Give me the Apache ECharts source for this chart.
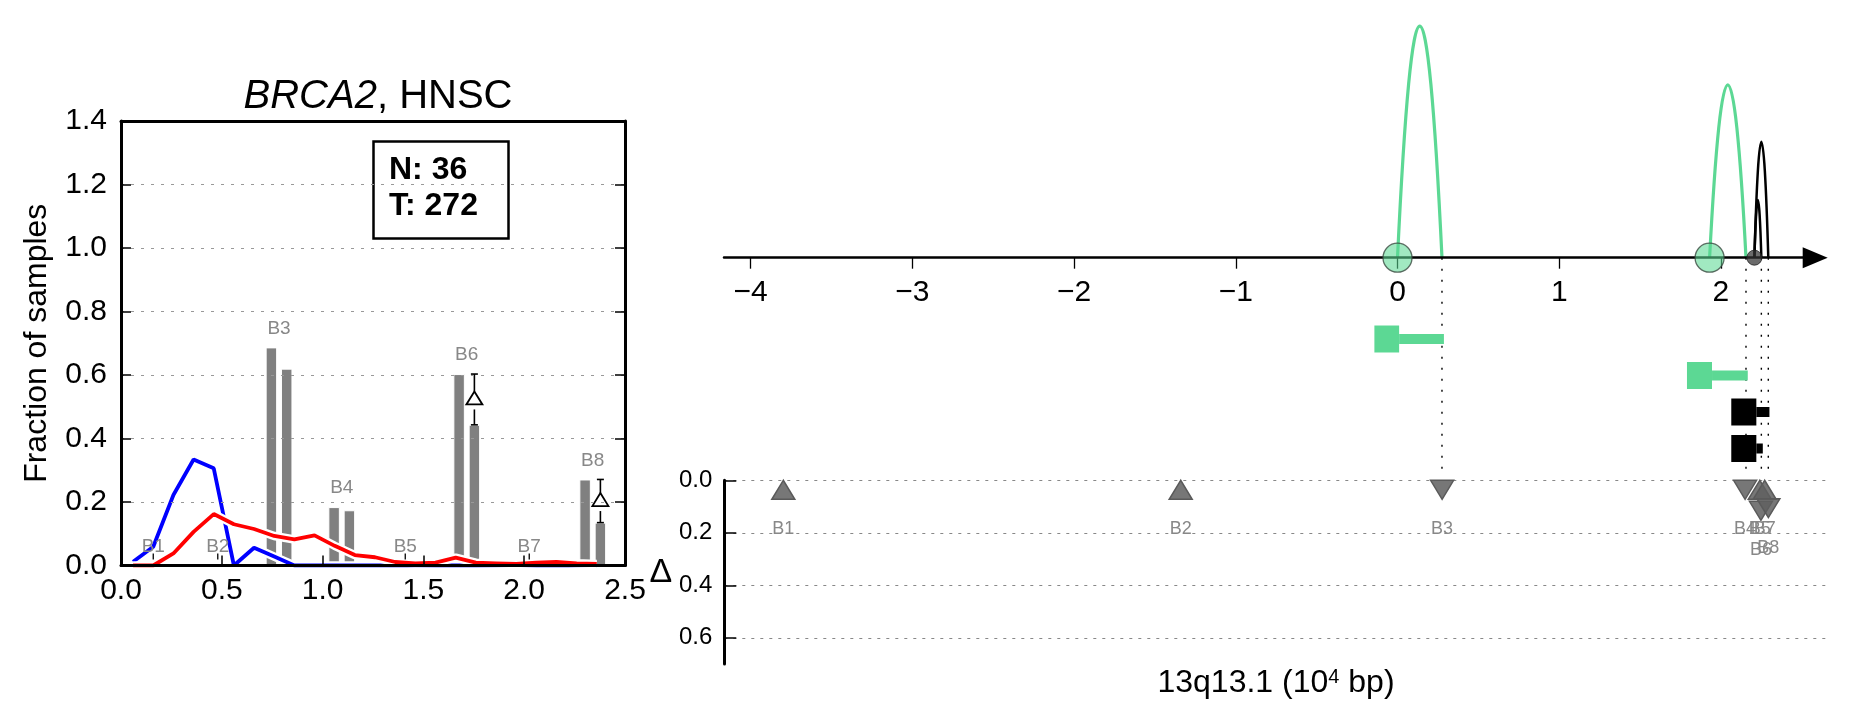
<!DOCTYPE html>
<html><head><meta charset="utf-8">
<script src="https://cdn.jsdelivr.net/npm/echarts@6/dist/echarts.min.js"></script>
<style>html,body{margin:0;padding:0;background:#fff}#c{width:1851px;height:718px}</style>
</head><body><div id="c"></div>
<script>
// ---------------- data: left panel ----------------
const binNames   = ['B1','B2','B3','B4','B5','B6','B7','B8'];
const binCenters = [0.16, 0.48, 0.784, 1.095, 1.41, 1.715, 2.025, 2.34];
const fracNormal = [0, 0, 0.687, 0.184, 0, 0.603, 0, 0.271];
const fracTumor  = [0, 0, 0.620, 0.174, 0, 0.443, 0, 0.135];
const deltaBins  = ['B6', 'B8'];
const curveX    = [0.06,0.16,0.26,0.36,0.46,0.56,0.66,0.76,0.86,0.96,1.06,1.16,1.26,1.36,1.46,1.56,1.66,1.76,1.86,1.96,2.06,2.16,2.26,2.36];
const curveBlue = [0.012,0.059,0.222,0.334,0.306,0.0,0.056,0.028,0.0,0,0,0,0,0,0,0,0,0,0,0,0,0,0,0];
const curveRed  = [0,0,0.038,0.106,0.162,0.13,0.115,0.093,0.082,0.095,0.062,0.033,0.026,0.011,0.007,0.009,0.025,0.009,0.007,0.005,0.009,0.011,0.007,0.005];
const sampleLabels = ['N', 'T'];
const sampleCounts = [36, 272];
const geneName = 'BRCA2';
const cancerType = 'HNSC';

// ---------------- data: right panel ----------------
const posTicks   = [-4, -3, -2, -1, 0, 1, 2];
const anchorX    = [0, 1.93, 2.207];
const anchorKind = ['green', 'green', 'black'];
const arcStart   = [0, 1.93, 2.207, 2.207];
const arcEnd     = [0.275, 2.155, 2.293, 2.25];
const arcHeight  = [0.965, 0.72, 0.483, 0.24];
const arcKind    = ['green', 'green', 'black', 'black'];
const geneBoxStart = [-0.143, 1.79, 2.064, 2.064];
const geneBoxEnd   = [0.01, 1.945, 2.219, 2.219];
const geneEnd      = [0.287, 2.166, 2.30, 2.259];
const geneKind     = ['green', 'green', 'black', 'black'];
const deltaNames = ['B1','B2','B3','B4','B5','B6','B7','B8'];
const deltaX     = [-3.80, -1.342, 0.275, 2.149, 2.24, 2.247, 2.27, 2.293];
const deltaVal   = [0, 0, 0, 0, 0, 0.08, 0, 0.07];
const deltaDir   = ['up','up','down','down','up','down','up','down'];
const deltaTicks = [0, 0.2, 0.4, 0.6];
const regionName = '13q13.1';

// ---------------- styles ----------------
const FONT = 'Liberation Sans';
const GREEN = '#5cd894';
const GREY_BAR = '#808080';
const LABEL_GREY = '#888888';
const kindColor = k => (k === 'green' ? GREEN : '#000000');

const chart = echarts.init(document.getElementById('c'), null, {renderer: 'canvas'});

const xRmin = -4.165, xRmaxTop = 2.583, xRmaxLow = 2.66;
const barW = 11.5, barGapPx = 3.8;

const option = {
  animation: false,
  backgroundColor: '#ffffff',
  textStyle: {fontFamily: FONT},
  title: [
    {
      text: '{i|' + geneName + '}, ' + cancerType,
      left: 373, top: 72, textAlign: 'center',
      textStyle: {fontFamily: FONT, fontSize: 40, fontWeight: 'normal', color: '#000',
        rich: {i: {fontFamily: FONT, fontSize: 40, fontStyle: 'italic', color: '#000'}}}
    },
    {
      text: sampleLabels.map((l, i) => l + ': ' + sampleCounts[i]).join('\n'),
      left: 373, top: 141,
      borderColor: '#000', borderWidth: 2.5,
      padding: [11, 31, 15, 16],
      textStyle: {fontFamily: FONT, fontSize: 32, fontWeight: 'bold', lineHeight: 36, color: '#000'}
    }
  ],
  grid: [
    {left: 121, top: 121, width: 504, height: 444.5, show: false},
    {left: 724, top: 17.7, width: 1091.2, height: 240},
    {left: 724, top: 320.75, width: 1091.2, height: 146},
    {left: 724.3, top: 480.3, width: 1103.4, height: 183.75}
  ],
  xAxis: [
    {gridIndex: 0, type: 'value', min: 0, max: 2.5, interval: 0.5, z: 10,
      axisLine: {show: true, onZero: false, lineStyle: {color: '#000', width: 3}},
      axisTick: {show: true, inside: true, length: 10, lineStyle: {color: '#000', width: 1.5}},
      axisLabel: {margin: 10, fontSize: 30, color: '#000', fontFamily: FONT, formatter: v => v.toFixed(1)},
      splitLine: {show: false}},
    {gridIndex: 0, type: 'value', min: 0, max: 2.5, position: 'top', z: 10,
      axisLine: {show: true, onZero: false, lineStyle: {color: '#000', width: 3}},
      axisTick: {show: false}, axisLabel: {show: false}, splitLine: {show: false}},
    {gridIndex: 1, type: 'value', min: xRmin, max: xRmaxTop, z: 5, position: 'bottom',
      axisLine: {show: true, onZero: false, symbol: ['none', 'triangle'], symbolSize: [21, 25],
        lineStyle: {color: '#000', width: 2.5}},
      axisTick: {show: true, length: 11, customValues: posTicks, lineStyle: {color: '#000', width: 1.3}},
      axisLabel: {customValues: posTicks, margin: 20, fontSize: 30, color: '#000', fontFamily: FONT,
        formatter: v => String(v).replace('-', '\u2212')},
      splitLine: {show: false}},
    {gridIndex: 2, type: 'value', min: xRmin, max: xRmaxTop, show: false},
    {gridIndex: 3, type: 'value', min: xRmin, max: xRmaxLow, show: true,
      axisLine: {show: false, onZero: false}, axisTick: {show: false}, axisLabel: {show: false}, splitLine: {show: false},
      name: '{a|' + regionName + ' (10}{s|4}{a| bp)}', nameLocation: 'middle', nameGap: 3,
      nameTextStyle: {fontFamily: FONT, color: '#000', rich: {
        a: {fontFamily: FONT, fontSize: 32, color: '#000'},
        s: {fontFamily: FONT, fontSize: 20, color: '#000', verticalAlign: 'top', padding: [0, 0, 10, 0]}}}}
  ],
  yAxis: [
    {gridIndex: 0, type: 'value', min: 0, max: 1.4, interval: 0.2, z: 10,
      name: 'Fraction of samples', nameLocation: 'middle', nameGap: 68,
      nameTextStyle: {fontFamily: FONT, fontSize: 32, color: '#000'},
      axisLine: {show: true, onZero: false, lineStyle: {color: '#000', width: 3}},
      axisTick: {show: true, inside: true, length: 10, lineStyle: {color: '#000', width: 1.5}},
      axisLabel: {margin: 14, fontSize: 30, color: '#000', fontFamily: FONT, formatter: v => v.toFixed(1)},
      splitLine: {show: true, lineStyle: {color: '#999', width: 1, type: [3, 7]}}},
    {gridIndex: 0, type: 'value', min: 0, max: 1.4, interval: 0.2, position: 'right', z: 10,
      axisLine: {show: true, onZero: false, lineStyle: {color: '#000', width: 3}},
      axisTick: {show: true, inside: true, length: 10, lineStyle: {color: '#000', width: 1.5}},
      axisLabel: {show: false}, splitLine: {show: false}},
    {gridIndex: 1, type: 'value', min: 0, max: 1, show: false},
    {gridIndex: 2, type: 'category', data: geneKind.map((k, i) => 'row' + i), inverse: true, show: false},
    {gridIndex: 3, type: 'value', min: 0, max: 0.7, inverse: true, z: 5,
      name: '\u0394', nameLocation: 'middle', nameGap: 52, nameRotate: 0,
      nameTextStyle: {fontFamily: FONT, fontSize: 34, color: '#000'},
      axisLine: {show: true, onZero: false, lineStyle: {color: '#000', width: 3}},
      axisTick: {show: true, inside: true, length: 12, customValues: deltaTicks, lineStyle: {color: '#000', width: 1.5}},
      axisLabel: {customValues: deltaTicks, margin: 12, fontSize: 24, color: '#000', fontFamily: FONT,
        formatter: v => v.toFixed(1)},
      splitLine: {show: true, lineStyle: {color: '#888', width: 1.2, type: [3, 6]}}}
  ],
  series: []
};

// ---- left panel bars ----
const barDataA = binCenters.map((x, i) => [x, fracNormal[i]]);
const barDataB = binCenters.map((x, i) => [x, fracTumor[i]]);
[barDataA, barDataB].forEach(d => option.series.push({
  type: 'bar', xAxisIndex: 0, yAxisIndex: 0, data: d, barWidth: barW, barGap: (barGapPx / barW * 100) + '%',
  itemStyle: {color: GREY_BAR, borderColor: '#fff', borderWidth: 1}, z: 2
}));

// ---- left panel curves (with white halo) ----
function curve(vals, color, z) {
  const d = curveX.map((x, i) => [x, vals[i]]);
  option.series.push({type: 'line', xAxisIndex: 0, yAxisIndex: 0, data: d, symbol: 'none', silent: true,
    lineStyle: {color: '#fff', width: 8.5}, z: z});
  option.series.push({type: 'line', xAxisIndex: 0, yAxisIndex: 0, data: d, symbol: 'none',
    lineStyle: {color: color, width: 3.8}, z: z + 0.5});
}
curve(curveBlue, '#0000ff', 3);
curve(curveRed, '#ff0000', 4);

// ---- left panel bin labels ----
option.series.push({
  type: 'custom', xAxisIndex: 0, yAxisIndex: 0, z: 8,
  data: binCenters.map((x, i) => [x, Math.max(fracNormal[i], fracTumor[i]), i]),
  renderItem: (params, api) => {
    const i = api.value(2);
    const p = api.coord([api.value(0), api.value(1)]);
    const children = [{type: 'text', x: p[0], y: p[1] - 19,
      style: {text: binNames[i], fill: LABEL_GREY, font: '19px ' + FONT, align: 'center', verticalAlign: 'middle'}}];
    if (api.value(1) === 0) {
      children.push({type: 'line', shape: {x1: p[0], y1: p[1] - 12, x2: p[0], y2: p[1] - 6},
        style: {stroke: '#000', lineWidth: 1.3}});
    }
    return {type: 'group', children};
  }
});

// ---- left panel delta error bars ----
option.series.push({
  type: 'custom', xAxisIndex: 0, yAxisIndex: 0, z: 9,
  data: binCenters.map((x, i) => [x, fracNormal[i], fracTumor[i], i]).filter(d => deltaBins.includes(binNames[d[3]])),
  renderItem: (params, api) => {
    const c = api.coord([api.value(0), api.value(1)]);
    const b = api.coord([api.value(0), api.value(2)]);
    const x = c[0] + (barW + barGapPx) / 2;
    const ya = c[1], yb = b[1], ym = (ya + yb) / 2;
    const st = {stroke: '#000', lineWidth: 1.6, fill: null};
    return {type: 'group', children: [
      {type: 'line', shape: {x1: x - 3.5, y1: ya, x2: x + 3.5, y2: ya}, style: st},
      {type: 'line', shape: {x1: x, y1: ya, x2: x, y2: ym - 8}, style: st},
      {type: 'polygon', shape: {points: [[x, ym - 8], [x - 8, ym + 5], [x + 8, ym + 5]]},
        style: {stroke: '#000', lineWidth: 1.8, fill: '#fff'}},
      {type: 'line', shape: {x1: x, y1: ym + 10, x2: x, y2: yb}, style: st},
      {type: 'line', shape: {x1: x - 3.5, y1: yb, x2: x + 3.5, y2: yb}, style: st}
    ]};
  }
});

// ---- right: dotted guide lines from arc ends ----
option.series.push({
  type: 'custom', xAxisIndex: 2, yAxisIndex: 2, z: 1, clip: false,
  data: arcEnd.map(x => [x]),
  renderItem: (params, api) => {
    const a = api.coord([api.value(0), 0]);
    const b = api.coord([api.value(0), -0.893]);
    return {type: 'line', shape: {x1: a[0], y1: a[1], x2: b[0], y2: b[1]},
      style: {stroke: '#000', lineWidth: 1.4, lineDash: [2, 9]}};
  }
});

// ---- right: arcs ----
option.series.push({
  type: 'custom', xAxisIndex: 2, yAxisIndex: 2, z: 3, clip: false,
  data: arcStart.map((s, i) => [s, arcEnd[i], arcHeight[i], i]),
  renderItem: (params, api) => {
    const x0 = api.value(0), x1 = api.value(1), h = api.value(2), k = arcKind[api.value(3)];
    const a = api.coord([x0, 0]), b = api.coord([x1, 0]), cp = api.coord([(x0 + x1) / 2, 2 * h]);
    return {type: 'bezierCurve', shape: {x1: a[0], y1: a[1], x2: b[0], y2: b[1], cpx1: cp[0], cpy1: cp[1]},
      style: {stroke: kindColor(k), lineWidth: k === 'green' ? 3.2 : 2.5, fill: null}};
  }
});

// ---- right: anchors (circles on axis) ----
option.series.push({
  type: 'scatter', xAxisIndex: 2, yAxisIndex: 2, z: 6, clip: false,
  data: anchorX.map((x, i) => ({
    value: [x, 0],
    symbolSize: anchorKind[i] === 'green' ? 29 : 15,
    itemStyle: anchorKind[i] === 'green'
      ? {color: 'rgba(92,216,148,0.72)', borderColor: '#3a4a40', borderWidth: 1.3}
      : {color: 'rgba(50,50,50,0.9)', borderColor: '#222', borderWidth: 1}
  }))
});

// ---- right: gene/segment glyphs ----
option.series.push({
  type: 'custom', xAxisIndex: 3, yAxisIndex: 3, z: 4,
  data: geneBoxStart.map((s, i) => [s, geneBoxEnd[i], geneEnd[i], i]),
  renderItem: (params, api) => {
    const i = api.value(3);
    const col = kindColor(geneKind[i]);
    const p0 = api.coord([api.value(0), i]);
    const p1 = api.coord([api.value(1), i]);
    const p2 = api.coord([api.value(2), i]);
    const bh = 27, th = 10;
    return {type: 'group', children: [
      {type: 'rect', shape: {x: p0[0], y: p0[1] - bh / 2, width: p1[0] - p0[0], height: bh}, style: {fill: col}},
      {type: 'rect', shape: {x: p1[0], y: p1[1] - th / 2, width: p2[0] - p1[0], height: th}, style: {fill: col}}
    ]};
  }
});

// ---- right lower: delta triangles ----
option.series.push({
  type: 'custom', xAxisIndex: 4, yAxisIndex: 4, z: 5,
  data: deltaX.map((x, i) => [x, deltaVal[i], i]),
  renderItem: (params, api) => {
    const i = api.value(2);
    const p = api.coord([api.value(0), api.value(1)]);
    const w = 11.5, h = 19;
    const pts = deltaDir[i] === 'up'
      ? [[p[0], p[1]], [p[0] - w, p[1] + h], [p[0] + w, p[1] + h]]
      : [[p[0] - w, p[1]], [p[0] + w, p[1]], [p[0], p[1] + h]];
    return {type: 'group', children: [
      {type: 'polygon', shape: {points: pts}, style: {fill: 'rgba(95,95,95,0.85)', stroke: '#5a5a5a', lineWidth: 1.5}},
      {type: 'text', x: p[0], y: p[1] + 49,
        style: {text: deltaNames[i], fill: LABEL_GREY, font: '18px ' + FONT, align: 'center', verticalAlign: 'middle'}}
    ]};
  }
});

chart.setOption(option);
</script></body></html>
